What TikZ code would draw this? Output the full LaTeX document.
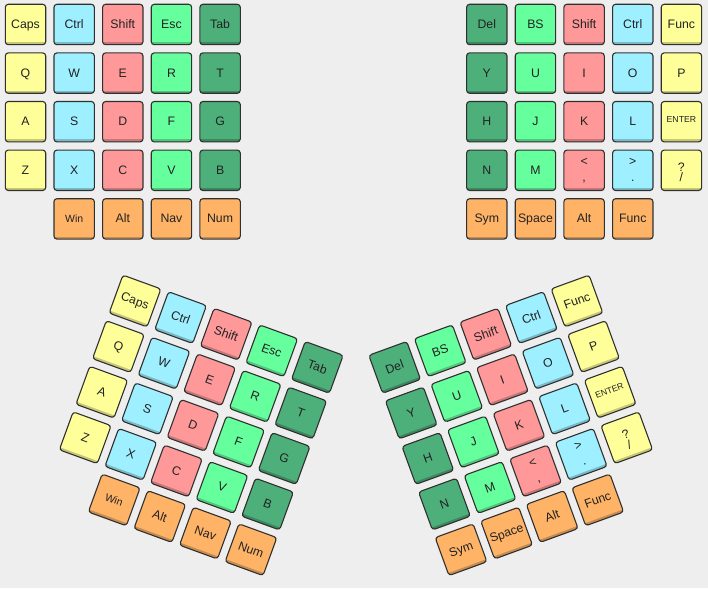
\documentclass[tikz,border=0pt]{standalone}
\usepackage{fontspec}
\setmainfont{Liberation Sans}
\definecolor{kyel}{HTML}{FFFF99}
\definecolor{kcya}{HTML}{9EEFFF}
\definecolor{kred}{HTML}{FF9999}
\definecolor{kgrn}{HTML}{66FF9E}
\definecolor{kdg}{HTML}{4DB07A}
\definecolor{kora}{HTML}{FFB366}
\definecolor{kbg}{HTML}{EEEEEE}
\definecolor{kedge}{HTML}{303030}
\definecolor{ktxt}{HTML}{222222}
\tikzset{
  keyline/.style={draw=kedge, line width=1.1pt, rounded corners=3pt},
  keytext/.style={inner sep=0pt, anchor=base, text=ktxt, font=\fontsize{12.3}{14}\selectfont}
}
\newcommand\kbkey[6]{%
  \begin{scope}[shift={(#2,#3)}, rotate=#4]
    \begin{scope}
      \clip[rounded corners=3pt] (-20.2,-20.2) rectangle (20.2,20.2);
      \fill[#5] (-20.2,-20.2) rectangle (20.2,20.2);
      \fill[#5!78!black] (-20.2,-20.2) rectangle (20.2,-17.6);
    \end{scope}
    \draw[keyline] (-20.2,-20.2) rectangle (20.2,20.2);
    \node[keytext, transform shape] (#1) at (0,-4) {#6};
  \end{scope}}
\newcommand\tlk[5]{\pgfmathsetmacro\kx{25.5+#2*48.65}\pgfmathsetmacro\ky{-(24.5+#3*48.6)}\kbkey{#1}{\kx}{\ky}{0}{#4}{#5}}
\newcommand\trk[5]{\pgfmathsetmacro\kx{486.8+#2*48.65}\pgfmathsetmacro\ky{-(24.5+#3*48.6)}\kbkey{#1}{\kx}{\ky}{0}{#4}{#5}}
\newcommand\blk[5]{\pgfmathsetmacro\kx{135+#2*45.58-#3*16.59}\pgfmathsetmacro\ky{-(301+#2*16.59+#3*45.58)}\kbkey{#1}{\kx}{\ky}{-20}{#4}{#5}}
\newcommand\brk[5]{\pgfmathsetmacro\kx{712-(135+(4-#2)*45.58-#3*16.59)}\pgfmathsetmacro\ky{-(301+(4-#2)*16.59+#3*45.58)}\kbkey{#1}{\kx}{\ky}{20}{#4}{#5}}
\newcommand\twoch[4]{\makebox[0pt]{\raisebox{#2}{#1}}\makebox[0pt]{\raisebox{#4}{#3}}}
\newcommand\smallk[1]{{\fontsize{10.5}{12}\selectfont #1}}
\newcommand\tinyk[1]{\raisebox{3pt}{\fontsize{8.7}{10}\selectfont #1}}
\begin{document}
\begin{tikzpicture}[x=1pt,y=1pt]
\fill[kbg] (0,0) rectangle (708,-588);
\useasboundingbox (0,0) rectangle (708,-588);
% ---------- top left ----------
\tlk{tlCaps}{0}{0}{kyel}{Caps}
\tlk{tlCtrl}{1}{0}{kcya}{Ctrl}
\tlk{tlShift}{2}{0}{kred}{Shift}
\tlk{tlEsc}{3}{0}{kgrn}{Esc}
\tlk{tlTab}{4}{0}{kdg}{Tab}
\tlk{tlQ}{0}{1}{kyel}{Q}
\tlk{tlW}{1}{1}{kcya}{W}
\tlk{tlE}{2}{1}{kred}{E}
\tlk{tlR}{3}{1}{kgrn}{R}
\tlk{tlT}{4}{1}{kdg}{T}
\tlk{tlA}{0}{2}{kyel}{A}
\tlk{tlS}{1}{2}{kcya}{S}
\tlk{tlD}{2}{2}{kred}{D}
\tlk{tlF}{3}{2}{kgrn}{F}
\tlk{tlG}{4}{2}{kdg}{G}
\tlk{tlZ}{0}{3}{kyel}{Z}
\tlk{tlX}{1}{3}{kcya}{X}
\tlk{tlC}{2}{3}{kred}{C}
\tlk{tlV}{3}{3}{kgrn}{V}
\tlk{tlB}{4}{3}{kdg}{B}
\tlk{tlWin}{1}{4}{kora}{\smallk{Win}}
\tlk{tlAlt}{2}{4}{kora}{Alt}
\tlk{tlNav}{3}{4}{kora}{Nav}
\tlk{tlNum}{4}{4}{kora}{Num}
% ---------- top right ----------
\trk{trDel}{0}{0}{kdg}{Del}
\trk{trBS}{1}{0}{kgrn}{BS}
\trk{trShift}{2}{0}{kred}{Shift}
\trk{trCtrl}{3}{0}{kcya}{Ctrl}
\trk{trFunc}{4}{0}{kyel}{Func}
\trk{trY}{0}{1}{kdg}{Y}
\trk{trU}{1}{1}{kgrn}{U}
\trk{trI}{2}{1}{kred}{I}
\trk{trO}{3}{1}{kcya}{O}
\trk{trP}{4}{1}{kyel}{P}
\trk{trH}{0}{2}{kdg}{H}
\trk{trJ}{1}{2}{kgrn}{J}
\trk{trK}{2}{2}{kred}{K}
\trk{trL}{3}{2}{kcya}{L}
\trk{trEnter}{4}{2}{kyel}{\tinyk{ENTER}}
\trk{trN}{0}{3}{kdg}{N}
\trk{trM}{1}{3}{kgrn}{M}
\trk{trComma}{2}{3}{kred}{\twoch{<}{9pt}{,}{-7.5pt}}
\trk{trDot}{3}{3}{kcya}{\twoch{>}{9pt}{.}{-7.5pt}}
\trk{trSlash}{4}{3}{kyel}{\twoch{?}{3pt}{/}{-7.5pt}}
\trk{trSym}{0}{4}{kora}{Sym}
\trk{trSpace}{1}{4}{kora}{Space}
\trk{trAlt}{2}{4}{kora}{Alt}
\trk{trFn}{3}{4}{kora}{Func}
% ---------- bottom left (rotated) ----------
\blk{blCaps}{0}{0}{kyel}{Caps}
\blk{blCtrl}{1}{0}{kcya}{Ctrl}
\blk{blShift}{2}{0}{kred}{Shift}
\blk{blEsc}{3}{0}{kgrn}{Esc}
\blk{blTab}{4}{0}{kdg}{Tab}
\blk{blQ}{0}{1}{kyel}{Q}
\blk{blW}{1}{1}{kcya}{W}
\blk{blE}{2}{1}{kred}{E}
\blk{blR}{3}{1}{kgrn}{R}
\blk{blT}{4}{1}{kdg}{T}
\blk{blA}{0}{2}{kyel}{A}
\blk{blS}{1}{2}{kcya}{S}
\blk{blD}{2}{2}{kred}{D}
\blk{blF}{3}{2}{kgrn}{F}
\blk{blG}{4}{2}{kdg}{G}
\blk{blZ}{0}{3}{kyel}{Z}
\blk{blX}{1}{3}{kcya}{X}
\blk{blC}{2}{3}{kred}{C}
\blk{blV}{3}{3}{kgrn}{V}
\blk{blB}{4}{3}{kdg}{B}
\blk{blWin}{1}{4}{kora}{\smallk{Win}}
\blk{blAlt}{2}{4}{kora}{Alt}
\blk{blNav}{3}{4}{kora}{Nav}
\blk{blNum}{4}{4}{kora}{Num}
% ---------- bottom right (rotated) ----------
\brk{brDel}{0}{0}{kdg}{Del}
\brk{brBS}{1}{0}{kgrn}{BS}
\brk{brShift}{2}{0}{kred}{Shift}
\brk{brCtrl}{3}{0}{kcya}{Ctrl}
\brk{brFunc}{4}{0}{kyel}{Func}
\brk{brY}{0}{1}{kdg}{Y}
\brk{brU}{1}{1}{kgrn}{U}
\brk{brI}{2}{1}{kred}{I}
\brk{brO}{3}{1}{kcya}{O}
\brk{brP}{4}{1}{kyel}{P}
\brk{brH}{0}{2}{kdg}{H}
\brk{brJ}{1}{2}{kgrn}{J}
\brk{brK}{2}{2}{kred}{K}
\brk{brL}{3}{2}{kcya}{L}
\brk{brEnter}{4}{2}{kyel}{\tinyk{ENTER}}
\brk{brN}{0}{3}{kdg}{N}
\brk{brM}{1}{3}{kgrn}{M}
\brk{brComma}{2}{3}{kred}{\twoch{<}{9pt}{,}{-7.5pt}}
\brk{brDot}{3}{3}{kcya}{\twoch{>}{9pt}{.}{-7.5pt}}
\brk{brSlash}{4}{3}{kyel}{\twoch{?}{3pt}{/}{-7.5pt}}
\brk{brSym}{0}{4}{kora}{Sym}
\brk{brSpace}{1}{4}{kora}{Space}
\brk{brAlt}{2}{4}{kora}{Alt}
\brk{brFn}{3}{4}{kora}{Func}
\end{tikzpicture}
\end{document}
